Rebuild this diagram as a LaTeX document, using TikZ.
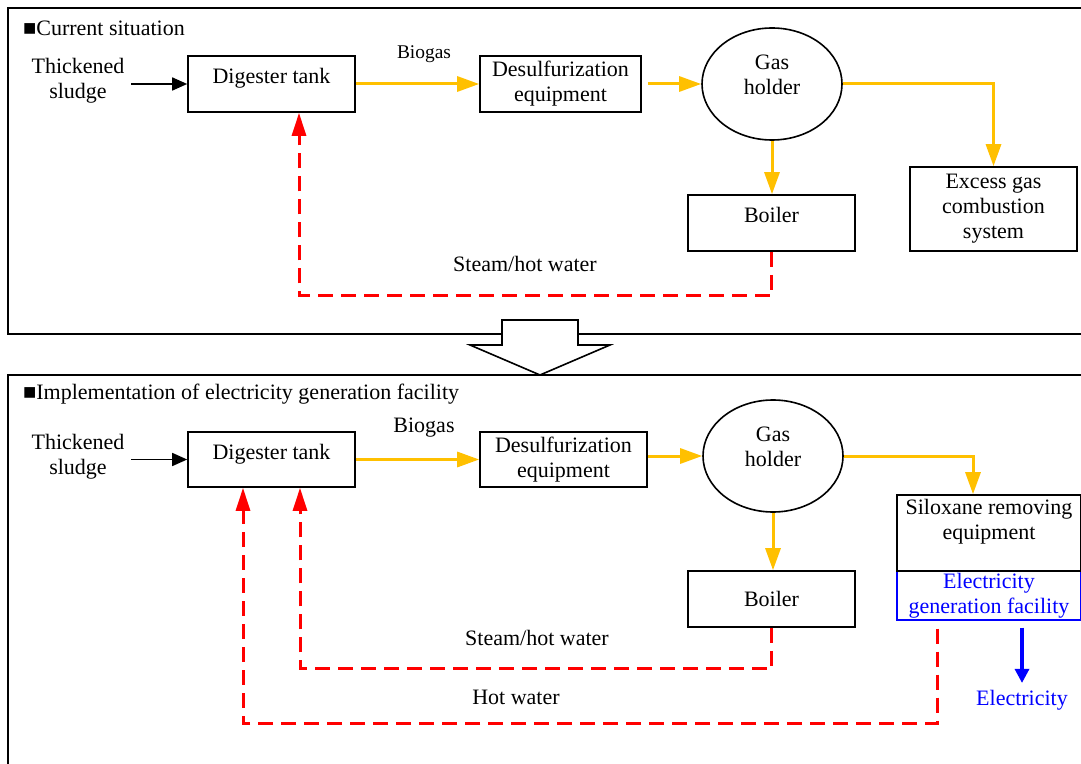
\documentclass[tikz,border=0pt]{standalone}
\usepackage{fontspec}
\setmainfont{Liberation Serif}
\usetikzlibrary{arrows.meta,shapes.geometric,calc}
\definecolor{gasorange}{RGB}{255,192,0}

\begin{document}
\begin{tikzpicture}[x=0.5pt,y=-0.5pt,font=\fontsize{11}{12.5}\selectfont,
    box/.style={draw,line width=0.8pt,align=center,inner sep=1pt},
    lifted/.style={text height=7.6pt,text depth=8pt},
    holder/.style={draw,ellipse,line width=0.8pt,align=center,inner sep=0pt,
      minimum width=70pt,minimum height=56pt,text height=20.1pt,text depth=9.4pt},
    gas/.style={gasorange,line width=1.5pt,-{Triangle[length=11pt,width=7.5pt]}},
    heat/.style={red,line width=1.5pt,dash pattern=on 7.5pt off 4pt,
      -{Triangle[length=11.5pt,width=7pt]}},
    feed/.style={line width=0.8pt,-{Triangle[length=7.5pt,width=6.5pt]}},
    power/.style={blue,line width=1.6pt,-{Triangle[length=7pt,width=7pt]}},
    frame/.style={line width=0.8pt}]
  \useasboundingbox (0,0) rectangle (1081,764);

  % current situation
  \draw[frame] (8,8) rectangle (1095,334);
  \node[anchor=west] (title1) at (16,28) {■Current situation};
  \node[align=center] (sl1) at (78,81) {Thickened\\sludge};
  \node[box,lifted,minimum width=83.5pt,minimum height=28pt] (dig1) at (271.5,84) {Digester tank};
  \node[box,minimum width=80.5pt,minimum height=28pt] (des1) at (560.5,84) {Desulfurization\\equipment};
  \node[holder] (gh1) at (772,84) {Gas\\holder};
  \node[box,lifted,minimum width=83.5pt,minimum height=28pt] (boil1) at (771.5,223) {Boiler};
  \node[box,minimum width=83.5pt,minimum height=42pt] (exc1) at (993.5,209) {Excess gas\\combustion\\system};
  \node[font=\fontsize{9.7}{11}\selectfont] (bio1) at (424,54) {Biogas};
  \node (steam1) at (525,264) {Steam/hot water};

  \draw[feed] (sl1.east |- dig1.west) -- (dig1.west);
  \draw[gas] (dig1.east) -- (des1.west);
  \draw[gas] ($(des1.east |- gh1.west)+(6,0)$) -- (gh1.west);
  \draw[gas] (gh1.east) -| (exc1.north);
  \draw[gas] (gh1.south) -- (gh1.south |- boil1.north);
  \draw[heat] (boil1.south) -- ++(0,44) -| ($(dig1.south)+(27.5,0)$);

  % change arrow
  \draw[frame,fill=white] (502,320) -- (578,320) -- (578,345) -- (610,345)
    -- (540,375) -- (470,345) -- (502,345) -- cycle;

  % with electricity generation
  \draw[frame] (8,375) rectangle (1095,790);
  \node[anchor=west] (title2) at (16,394) {■Implementation of electricity generation facility};
  \node[align=center] (sl2) at (78,457) {Thickened\\sludge};
  \node[box,lifted,minimum width=83.5pt,minimum height=27.5pt] (dig2) at (271.5,459.5) {Digester tank};
  \node[box,minimum width=83.5pt,minimum height=27.5pt] (des2) at (563.5,459.5) {Desulfurization\\equipment};
  \node[holder] (gh2) at (773,456) {Gas\\holder};
  \node[box,minimum width=83.5pt,minimum height=28pt] (boil2) at (771.5,599) {Boiler};
  \node[box,draw=blue,text=blue,line width=0.6pt,minimum width=92pt,minimum height=24.5pt]
    (elec) at (989,595.5) {Electricity\\generation facility};
  \node[box,minimum width=92pt,minimum height=38pt,text height=20.1pt,text depth=13.9pt]
    (silox) at (989,533) {Siloxane removing\\equipment};
  \node[text=blue] (pow) at (1022,700) {Electricity};
  \node (bio2) at (424,428) {Biogas};
  \node (steam2) at (537,638) {Steam/hot water};
  \node (hot2) at (516,697) {Hot water};

  \draw[feed] (sl2.east |- dig2.west) -- (dig2.west);
  \draw[gas] (dig2.east) -- (des2.west);
  \draw[gas] (des2.east |- gh2.west) -- (gh2.west);
  \draw[gas] (gh2.east) -| ($(silox.north)+(-16,0)$);
  \draw[gas] (gh2.south) -- (gh2.south |- boil2.north);
  \draw[power] ($(elec.south)+(33,7)$) -- (pow.north);
  \draw[heat] (boil2.south) -- ++(0,41) -| ($(dig2.south)+(28.5,0)$);
  \draw[heat] ($(elec.south)+(-52,8)$) -- ++(0,95) -| ($(dig2.south)+(-28.5,0)$);
\end{tikzpicture}
\end{document}
